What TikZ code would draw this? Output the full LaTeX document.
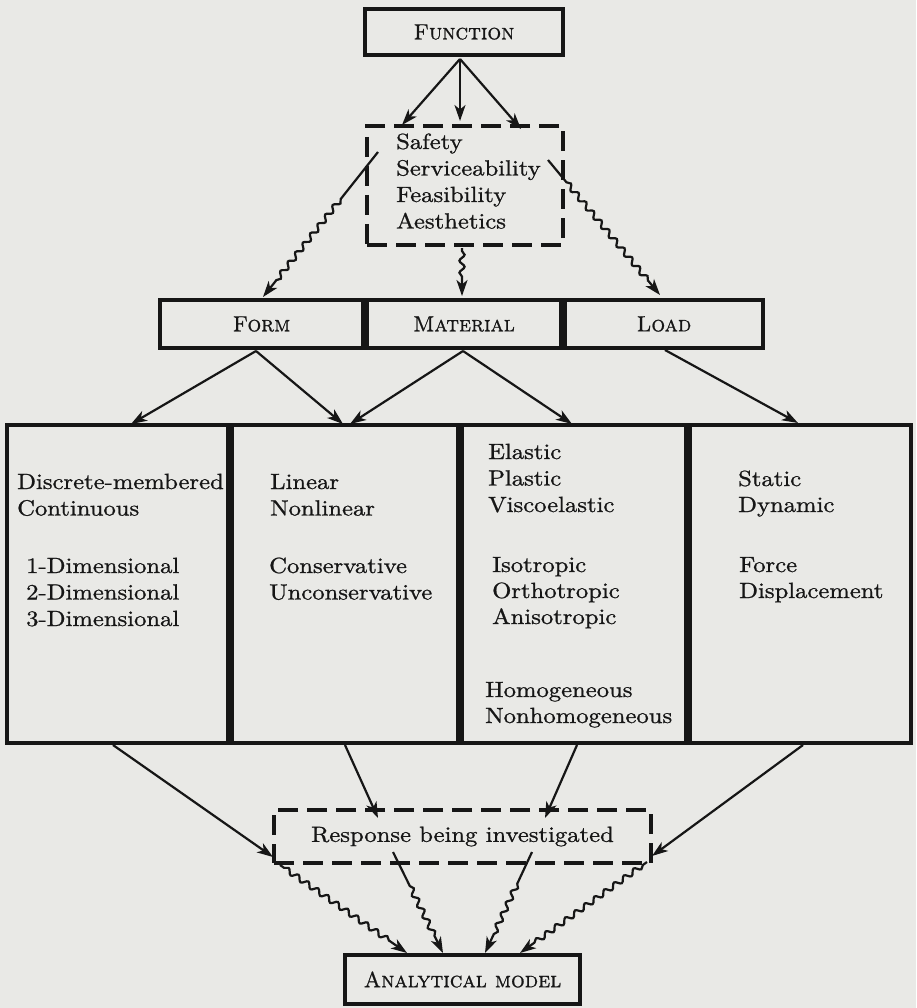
\documentclass[tikz,border=0pt]{standalone}
\usepackage{fontspec}
\setmainfont{lmroman10-regular.otf}[FakeBold=0.9, SmallCapsFont=lmromancaps10-regular.otf, SmallCapsFeatures={FakeBold=0.9}]
\usetikzlibrary{arrows.meta,decorations.pathmorphing}
\definecolor{paper}{RGB}{233,233,230}
\definecolor{ink}{RGB}{22,22,22}
\newcommand{\sx}[1]{\scalebox{1.12}[1]{#1}}
\newcommand{\scx}[1]{\scalebox{0.98}[1]{\textsc{#1}}}
\begin{document}
\begin{tikzpicture}[x=1pt,y=-1pt,
  every node/.style={font=\fontsize{22}{26}\selectfont, text=ink},
  box/.style={draw=ink, line width=4pt, inner sep=0pt},
  dbox/.style={draw=ink, line width=4.5pt, inner sep=0pt, dash pattern=on 20pt off 9pt},
  txt/.style={anchor=base west, inner sep=0pt},
  arr/.style={draw=ink, line width=2.2pt, -{Stealth[length=16pt,width=11pt,inset=4.5pt]}},
  wav/.style={arr, decorate, decoration={snake, amplitude=2.6pt, segment length=12pt, pre length=#1, post length=17pt}},
  wav/.default=5pt
]
\fill[paper] (0,0) rectangle (916,1008);
\useasboundingbox (0,0) rectangle (916,1008);

% ---- boxes ----
\node[box, minimum width=198pt, minimum height=46pt] (F) at (464,32) {\scx{Function}};
\node[dbox, minimum width=196pt, minimum height=119pt] (S) at (465,185.5) {};
\node[txt] (s1) at (396,149) {\sx{Safety}};
\node[txt] (s2) at (396,175.5) {\sx{Serviceability}};
\node[txt] (s3) at (396,202) {\sx{Feasibility}};
\node[txt] (s4) at (396,228.5) {\sx{Aesthetics}};

\node[box, minimum width=203pt, minimum height=48pt] (FO) at (261.5,324) {\scx{Form}};
\node[box, minimum width=194pt, minimum height=48pt] (MA) at (464,324) {\scx{Material}};
\node[box, minimum width=198pt, minimum height=48pt] (LO) at (664,324) {\scx{Load}};

\node[box, minimum width=221pt, minimum height=318pt] (C1) at (117.5,584) {};
\node[box, minimum width=226pt, minimum height=318pt] (C2) at (345,584) {};
\node[box, minimum width=224pt, minimum height=318pt] (C3) at (574,584) {};
\node[box, minimum width=221pt, minimum height=318pt] (C4) at (800.5,584) {};

\node[txt] (p1) at (17,489) {\sx{Discrete-membered}};
\node[txt] (p2) at (17,515.5) {\sx{Continuous}};
\node[txt] (p3) at (26,573) {\sx{1-Dimensional}};
\node[txt] (p4) at (26,599.5) {\sx{2-Dimensional}};
\node[txt] (p5) at (26,626) {\sx{3-Dimensional}};

\node[txt] (q1) at (270,489) {\sx{Linear}};
\node[txt] (q2) at (270,515.5) {\sx{Nonlinear}};
\node[txt] (q3) at (269,573) {\sx{Conservative}};
\node[txt] (q4) at (269,599.5) {\sx{Unconservative}};

\node[txt] (m1) at (488,459) {\sx{Elastic}};
\node[txt] (m2) at (488,485.5) {\sx{Plastic}};
\node[txt] (m3) at (488,512) {\sx{Viscoelastic}};
\node[txt] (m4) at (492,572) {\sx{Isotropic}};
\node[txt] (m5) at (492,598) {\sx{Orthotropic}};
\node[txt] (m6) at (492,624) {\sx{Anisotropic}};
\node[txt] (m7) at (485,697) {\sx{Homogeneous}};
\node[txt] (m8) at (485,723) {\sx{Nonhomogeneous}};

\node[txt] (l1) at (738,486) {\sx{Static}};
\node[txt] (l2) at (738,512) {\sx{Dynamic}};
\node[txt] (l3) at (739,572) {\sx{Force}};
\node[txt] (l4) at (739,598) {\sx{Displacement}};

\node[dbox, minimum width=377pt, minimum height=53pt] (R) at (462.5,836.5) {\sx{Response being investigated}};
\node[box, minimum width=235pt, minimum height=49pt] (A) at (462.5,979.5) {\scx{Analytical model}};

% ---- connector end points ----
\coordinate (Fo) at (460,59);
\coordinate (Sa) at (402,125);
\coordinate (Sb) at (460,121);
\coordinate (Sc) at (521,129);
\coordinate (Sl) at (378,152);
\coordinate (Sm) at (462,248);
\coordinate (Sr) at (548,160);
\coordinate (FOt) at (263,297);
\coordinate (MAt) at (462,296);
\coordinate (LOt) at (660,295);
\coordinate (FOb) at (256,351);
\coordinate (MAb) at (463,351);
\coordinate (LOb) at (665,350);
\coordinate (C1t) at (131,424);
\coordinate (C2t) at (343,424);
\coordinate (C2u) at (350,424);
\coordinate (C3t) at (572,424);
\coordinate (C4t) at (798,423);
\coordinate (C1b) at (113,745);
\coordinate (C2b) at (345,745);
\coordinate (C3b) at (577,745);
\coordinate (C4b) at (803,745);
\coordinate (Rl) at (273,857);
\coordinate (Ra) at (378,818);
\coordinate (Rb) at (545,818);
\coordinate (Rr) at (652,856);
\coordinate (Rlw) at (280,865);
\coordinate (Raw) at (393,852);
\coordinate (Rbw) at (532,852);
\coordinate (Rrw) at (647,862);
\coordinate (A1) at (407,953);
\coordinate (A2) at (443,953);
\coordinate (A3) at (485,953);
\coordinate (A4) at (520,953);

% ---- connectors ----
\draw[arr] (Fo) -- (Sa);
\draw[arr] (Fo) -- (Sb);
\draw[arr] (Fo) -- (Sc);
\draw[wav=60pt] (Sl) -- (FOt);
\draw[wav=3pt] (Sm) -- (MAt);
\draw[wav=29pt] (Sr) -- (LOt);

\draw[arr] (FOb) -- (C1t);
\draw[arr] (FOb) -- (C2t);
\draw[arr] (MAb) -- (C2u);
\draw[arr] (MAb) -- (C3t);
\draw[arr] (LOb) -- (C4t);

\draw[arr] (C1b) -- (Rl);
\draw[arr] (C2b) -- (Ra);
\draw[arr] (C3b) -- (Rb);
\draw[arr] (C4b) -- (Rr);
\draw[wav=5pt] (Rlw) -- (A1);
\draw[wav=38pt] (Raw) -- (A2);
\draw[wav=35pt] (Rbw) -- (A3);
\draw[wav=5pt] (Rrw) -- (A4);
\end{tikzpicture}
\end{document}
